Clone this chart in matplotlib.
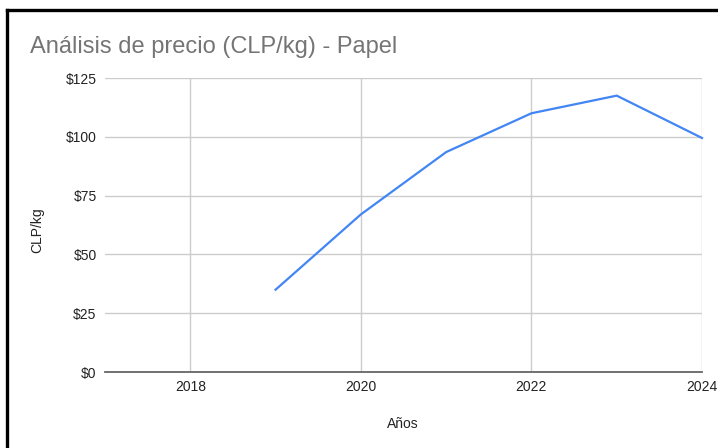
import matplotlib
matplotlib.use("Agg")
import matplotlib.pyplot as plt
from matplotlib.lines import Line2D

years = [2019, 2020, 2021, 2022, 2023, 2024]
prices = [35, 67, 93.5, 110, 117.5, 99.5]
x_ticks = [2018, 2020, 2022, 2024]
y_ticks = [0, 25, 50, 75, 100, 125]
y_labels = ["$0", "$25", "$50", "$75", "$100", "$125"]

plt.rcParams['font.family'] = ['Liberation Sans', 'DejaVu Sans']

W, H = 718, 448
fig = plt.figure(figsize=(W / 100, H / 100), dpi=100)
fig.patch.set_facecolor("white")

left, right, top, bottom = 105, 702, 78, 372
ax = fig.add_axes([left / W, 1 - bottom / H, (right - left) / W, (bottom - top) / H])

ax.plot(years, prices, color="#4285F4", linewidth=1.6, solid_joinstyle="miter", clip_on=False, zorder=3)

ax.set_xlim(2017, 2024)
ax.set_ylim(0, 125)
ax.set_xticks(x_ticks)
ax.set_yticks(y_ticks)
ax.set_yticklabels(y_labels)
ax.grid(True, color="#cccccc", linewidth=1.0)
ax.set_axisbelow(True)
for s in ["top", "right", "left"]:
    ax.spines[s].set_visible(False)
ax.spines["bottom"].set_color("#666666")
ax.spines["bottom"].set_linewidth(1.3)
ax.spines["bottom"].set_zorder(4)
ax.tick_params(axis="both", length=0, labelsize=10, colors="#222222")
ax.tick_params(axis="x", pad=5.5)
ax.tick_params(axis="y", pad=6)

fig.text(403 / W, 1 - 428 / H, "Años", fontsize=10, color="#222222",
         ha="center", va="baseline")
fig.text(37.5 / W, 1 - 230.5 / H, "CLP/kg", rotation=90, fontsize=10, color="#222222",
         ha="center", va="center")

fig.text(30 / W, 1 - 53 / H, "Análisis de precio (CLP/kg) - Papel", fontsize=17,
         color="#757575", ha="left", va="baseline")

# black border (left and top visible)
fig.add_artist(Line2D([6.5 / W, 6.5 / W], [0, 1 - 10.5 / H], color="black", linewidth=2.4,
                      transform=fig.transFigure, solid_capstyle="projecting"))
fig.add_artist(Line2D([6.5 / W, 1], [1 - 10.5 / H, 1 - 10.5 / H], color="black", linewidth=2.4,
                      transform=fig.transFigure, solid_capstyle="projecting"))

fig.savefig("out.png", dpi=100)
